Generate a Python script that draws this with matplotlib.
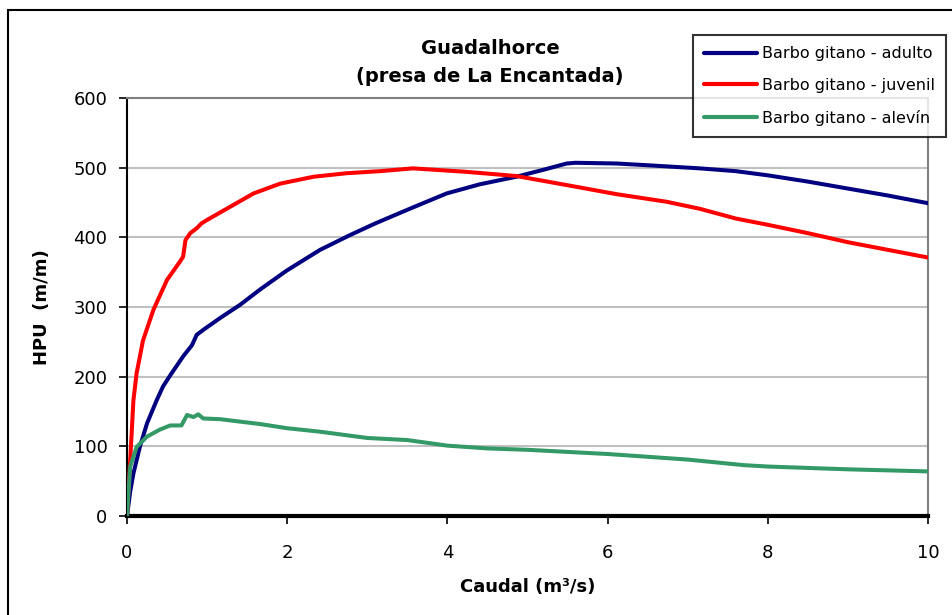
import matplotlib.pyplot as plt
from matplotlib.patches import Rectangle

# ---------------------------------------------------------------------------
# Data
# ---------------------------------------------------------------------------
adulto_x = [0.0, 0.04, 0.08, 0.16, 0.25, 0.37, 0.45, 0.54, 0.70, 0.81,
            0.87, 0.95, 1.16, 1.41, 1.66, 1.99, 2.41, 2.78, 3.1, 3.53,
            3.99, 4.4, 4.86, 5.2, 5.49, 5.6, 6.11, 6.57, 7.15, 7.6, 8.0,
            8.5, 9.0, 9.5, 10.0]
adulto_y = [0, 35, 61, 99, 133, 166, 186, 202, 229, 245,
            260, 267, 284, 303, 325, 352, 382, 403, 420, 441,
            463, 476, 487, 497, 506, 507, 506, 503, 499, 495, 489,
            480, 470, 460, 449]

juvenil_x = [0.0, 0.02, 0.04, 0.08, 0.12, 0.20, 0.33, 0.50, 0.66, 0.70,
             0.73, 0.79, 0.87, 0.93, 1.0, 1.29, 1.58, 1.91, 2.33, 2.74,
             3.16, 3.57, 4.24, 4.86, 5.49, 6.11, 6.74, 7.15, 7.6, 8.0,
             8.5, 9.0, 9.5, 10.0]
juvenil_y = [0, 40, 80, 166, 205, 252, 296, 339, 365, 372,
             396, 406, 413, 420, 425, 444, 463, 477, 487, 492,
             495, 499, 494, 488, 475, 462, 451, 441, 427, 418,
             406, 393, 382, 371]

alevin_x = [0.0, 0.04, 0.12, 0.25, 0.41, 0.54, 0.68, 0.75, 0.83, 0.89,
            0.95, 1.16, 1.66, 2.0, 2.41, 3.0, 3.5, 4.0, 4.5, 5.0, 6.0,
            7.0, 7.7, 8.0, 9.0, 10.0]
alevin_y = [0, 71, 99, 114, 124, 130, 130, 145, 142, 146,
            140, 139, 132, 126, 121, 112, 109, 101, 97, 95, 89,
            81, 73, 71, 67, 64]

labels = ["Barbo gitano - adulto", "Barbo gitano - juvenil",
          "Barbo gitano - alevín"]
colors = ["#000080", "#FF0000", "#339966"]

# ---------------------------------------------------------------------------
# Figure
# ---------------------------------------------------------------------------
fig = plt.figure(figsize=(9.52, 6.15), dpi=100)
ax = fig.add_axes([127 / 952, 1 - 516 / 615, (928 - 127) / 952,
                   (516 - 98) / 615])

series = [(adulto_x, adulto_y), (juvenil_x, juvenil_y), (alevin_x, alevin_y)]
for (xs, ys), lab, col in zip(series, labels, colors):
    ax.plot(xs, ys, color=col, lw=2.9, label=lab, solid_joinstyle="round",
            solid_capstyle="round", zorder=3)

ax.set_xlim(0, 10)
ax.set_ylim(0, 600)
ax.set_xticks([0, 2, 4, 6, 8, 10])
ax.set_yticks([0, 100, 200, 300, 400, 500, 600])
ax.yaxis.grid(True, color="#c0c0c0", lw=1.5)
ax.set_axisbelow(True)

for side in ("top", "right"):
    ax.spines[side].set_color("#808080")
    ax.spines[side].set_linewidth(1.5)
ax.spines["left"].set_color("black")
ax.spines["left"].set_linewidth(1.5)
ax.spines["bottom"].set_color("black")
ax.spines["bottom"].set_linewidth(3)

ax.tick_params(axis="both", labelsize=13, length=6, width=1.2,
               direction="out")
ax.tick_params(axis="y", pad=8)
ax.tick_params(axis="x", pad=14)

ax.set_xlabel("Caudal (m³/s)", fontsize=13, fontweight="bold", labelpad=12)
ax.set_ylabel("HPU  (m/m)", fontsize=13, fontweight="bold", labelpad=16)

fig.text(490 / 952, 1 - 48 / 615, "Guadalhorce", ha="center", va="center",
         fontsize=14, fontweight="bold")
fig.text(490 / 952, 1 - 76 / 615, "(presa de La Encantada)", ha="center",
         va="center", fontsize=14, fontweight="bold")

leg = fig.legend(loc="upper right", bbox_to_anchor=(946 / 952, 1 - 35 / 615),
                 fontsize=11.5, frameon=True, fancybox=False,
                 handlelength=3.3, handletextpad=0.3, labelspacing=1.05,
                 borderpad=0.7, borderaxespad=0)
leg.get_frame().set_edgecolor("black")
leg.get_frame().set_linewidth(1.5)
for h in leg.get_lines():
    h.set_linewidth(3)

# outer chart border (only top and left edges are visible)
fig.patches.append(Rectangle((8 / 952, -0.1), 1.2, 1.1 - 10 / 615,
                             transform=fig.transFigure, fill=False,
                             edgecolor="black", lw=1.5))

fig.savefig("out.png", dpi=100)
